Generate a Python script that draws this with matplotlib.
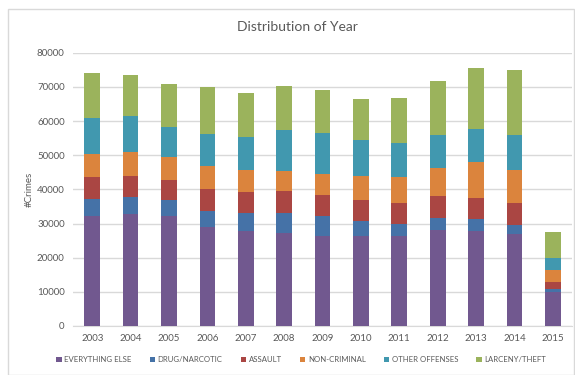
import matplotlib
matplotlib.use("Agg")
import matplotlib.pyplot as plt
from matplotlib.patches import Rectangle
import numpy as np

years = ["2003", "2004", "2005", "2006", "2007", "2008", "2009",
         "2010", "2011", "2012", "2013", "2014", "2015"]
everything_else = [32300, 32700, 32300, 29000, 27800, 27200, 26200, 26200, 26400, 28200, 27800, 26800, 10000]
drug_narcotic   = [4800, 5000, 4500, 4700, 5300, 5900, 6100, 4500, 3500, 3500, 3400, 2800, 700]
assault         = [6600, 6300, 5800, 6400, 6100, 6400, 5900, 6200, 6000, 6300, 6400, 6300, 2200]
non_criminal    = [6600, 7000, 6900, 6600, 6400, 6000, 6200, 7000, 7700, 8300, 10400, 9700, 3600]
other_offenses  = [10600, 10400, 8800, 9500, 9700, 11900, 12100, 10400, 10000, 9700, 9600, 10300, 3500]
larceny_theft   = [13100, 12200, 12500, 13800, 12800, 12800, 12600, 12200, 13100, 15800, 18000, 19000, 7500]

series = [
    ("EVERYTHING ELSE", everything_else, "#71588F"),
    ("DRUG/NARCOTIC", drug_narcotic, "#4572A7"),
    ("ASSAULT", assault, "#AA4643"),
    ("NON-CRIMINAL", non_criminal, "#DB843D"),
    ("OTHER OFFENSES", other_offenses, "#4198AF"),
    ("LARCENY/THEFT", larceny_theft, "#9BB35C"),
]

plt.rcParams['font.family'] = ['Lato', 'DejaVu Sans']
fig = plt.figure(figsize=(5.75, 3.75), dpi=100)
ax = fig.add_axes([0.127, 0.1307, 0.868, 0.7288])

x = np.arange(len(years))
bottom = np.zeros(len(years))
for name, vals, col in series:
    v = np.array(vals, dtype=float)
    ax.bar(x, v, width=0.41, bottom=bottom, color=col, label=name, zorder=3)
    bottom += v

ax.set_ylim(0, 80000)
ax.set_xlim(-0.5, len(years) - 0.5)
ax.set_yticks(np.arange(0, 80001, 10000))
ax.set_xticks(x)
ax.set_xticklabels(years)
ax.grid(axis='y', color='#D9D9D9', linewidth=1, zorder=0)
for s in ['top', 'right', 'left']:
    ax.spines[s].set_visible(False)
ax.spines['bottom'].set_color('#D9D9D9')
ax.tick_params(axis='both', length=0, labelsize=7, colors='#595959', pad=6)
ax.set_ylabel('#Crimes', fontsize=7, color='#595959', labelpad=2)

fig.text(0.518, 0.927, 'Distribution of Year', ha='center', va='center', fontsize=10, color='#595959')

leg = ax.legend(loc='upper center', bbox_to_anchor=(0.457, -0.085), ncol=6, frameon=False,
                fontsize=5.6, handlelength=0.7, handleheight=0.7, handletextpad=0.35,
                columnspacing=2.3, labelcolor='#595959')

fig.patches.append(Rectangle((8/575, 0), 1 - 8/575 - 0.001, 1 - 9/375, transform=fig.transFigure,
                             fill=False, edgecolor='#D9D9D9', linewidth=1))

fig.savefig('out.png', dpi=100)
